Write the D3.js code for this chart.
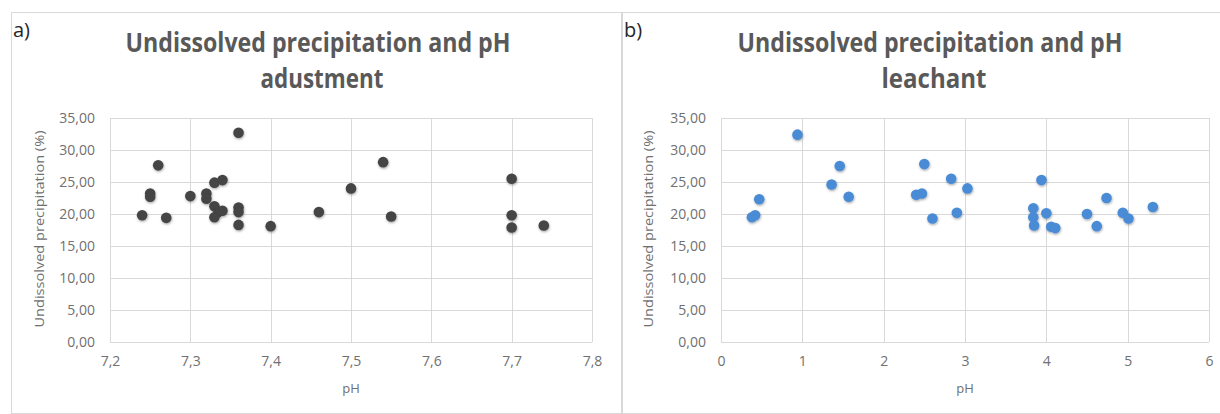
<!DOCTYPE html>
<html>
<head>
<meta charset="utf-8">
<script src="https://cdn.jsdelivr.net/npm/d3@7"></script>
<style>
  body { margin: 0; background: #fff; }
  svg { display: block; }
  text { font-family: "Open Sans", "DejaVu Sans", sans-serif; }
</style>
</head>
<body>
<div id="svg-container"></div>
<script>
/* chart a) pH adjustment */
var phAdjust = [7.24, 7.25, 7.25, 7.26, 7.27, 7.30, 7.32, 7.32, 7.33, 7.34, 7.33, 7.335, 7.33, 7.34,
  7.36, 7.36, 7.36, 7.36, 7.40, 7.46, 7.50, 7.54, 7.55, 7.70, 7.70, 7.70, 7.74];
var precipAdjust = [19.8, 23.2, 22.7, 27.6, 19.4, 22.8, 23.2, 22.4, 24.9, 25.3, 21.2, 20.3, 19.5, 20.5,
  32.7, 21.0, 20.3, 18.3, 18.1, 20.3, 24.0, 28.1, 19.6, 25.5, 19.8, 17.9, 18.2];

/* chart b) pH leachant */
var phLeach = [0.38, 0.42, 0.47, 0.94, 1.36, 1.46, 1.57, 2.40, 2.47, 2.50, 2.60, 2.83, 2.90, 3.03,
  3.94, 3.84, 3.84, 3.85, 4.00, 4.06, 4.11, 4.50, 4.62, 4.74, 4.94, 5.01, 5.31];
var precipLeach = [19.5, 19.8, 22.3, 32.4, 24.6, 27.5, 22.7, 23.0, 23.2, 27.8, 19.3, 25.5, 20.2, 24.0,
  25.3, 20.9, 19.5, 18.2, 20.1, 18.0, 17.8, 20.0, 18.1, 22.5, 20.2, 19.3, 21.1];

/* axis ticks */
var yTicks = [0, 5, 10, 15, 20, 25, 30, 35];
var xTicksAdjust = [7.2, 7.3, 7.4, 7.5, 7.6, 7.7, 7.8];
var xTicksLeach = [0, 1, 2, 3, 4, 5, 6];

var titleLine1 = "Undissolved precipitation and pH";
var yTitle = "Undissolved precipitation (%)";

var W = 1220, H = 414;
var locale = d3.formatLocale({decimal: ",", thousands: ".", grouping: [3], currency: ["", ""]});

var svg = d3.select("#svg-container").append("svg")
    .attr("width", W).attr("height", H);

var defs = svg.append("defs");
defs.append("filter").attr("id", "shadow")
    .attr("x", "-50%").attr("y", "-50%").attr("width", "200%").attr("height", "200%")
  .append("feDropShadow")
    .attr("dx", 0.5).attr("dy", 1.2).attr("stdDeviation", 1.3)
    .attr("flood-color", "#000").attr("flood-opacity", 0.35);

/* draws one panel */
function drawPanel(cfg) {
  var g = svg.append("g");

  /* chart border */
  g.append("rect")
      .attr("x", cfg.box.x + 0.5).attr("y", cfg.box.y + 0.5)
      .attr("width", cfg.box.w).attr("height", cfg.box.h)
      .attr("fill", "#fff").attr("stroke", "#d9d9d9");

  /* panel letter */
  g.append("text")
      .attr("x", cfg.box.x + 2).attr("y", cfg.box.y + 25)
      .attr("font-size", 20).attr("fill", "#262626")
      .text(cfg.letter);

  /* title */
  var cx = cfg.box.x + cfg.box.w / 2 + 2;
  g.append("text")
      .attr("x", cx).attr("y", 52)
      .attr("text-anchor", "middle")
      .attr("font-size", 26).attr("font-weight", "bold").attr("fill", "#595959")
      .attr("textLength", 385).attr("lengthAdjust", "spacingAndGlyphs")
      .text(titleLine1);
  g.append("text")
      .attr("x", cx + cfg.line2dx).attr("y", 88)
      .attr("text-anchor", "middle")
      .attr("font-size", 26).attr("font-weight", "bold").attr("fill", "#595959")
      .attr("textLength", cfg.line2len).attr("lengthAdjust", "spacingAndGlyphs")
      .text(cfg.line2);

  var x = d3.scaleLinear().domain(cfg.xDomain).range(cfg.xRange);
  var y = d3.scaleLinear().domain([0, 35]).range([342, 118]);

  /* grid */
  g.append("g").selectAll("line").data(yTicks).enter().append("line")
      .attr("x1", cfg.xRange[0]).attr("x2", cfg.xRange[1])
      .attr("y1", function (d) { return Math.round(y(d)) + 0.5; })
      .attr("y2", function (d) { return Math.round(y(d)) + 0.5; })
      .attr("stroke", "#d9d9d9");
  g.append("g").selectAll("line").data(cfg.xTicks).enter().append("line")
      .attr("x1", function (d) { return Math.round(x(d)) + 0.5; })
      .attr("x2", function (d) { return Math.round(x(d)) + 0.5; })
      .attr("y1", y(35)).attr("y2", y(0))
      .attr("stroke", "#d9d9d9");

  /* y axis labels */
  var fy = locale.format(".2f");
  var yAxis = d3.axisLeft(y).tickValues(yTicks).tickFormat(fy).tickSize(0).tickPadding(15);
  var ya = g.append("g").attr("transform", "translate(" + cfg.xRange[0] + ",0)").call(yAxis);
  ya.select(".domain").remove();
  ya.selectAll("text").attr("font-size", 14).attr("fill", "#707070")
      .attr("font-family", "'Open Sans', sans-serif");

  /* x axis labels */
  var xAxis = d3.axisBottom(x).tickValues(cfg.xTicks).tickFormat(locale.format(cfg.xFormat))
      .tickSize(0).tickPadding(14);
  var xa = g.append("g").attr("transform", "translate(0," + y(0) + ")").call(xAxis);
  xa.select(".domain").remove();
  xa.selectAll("text").attr("font-size", 14).attr("fill", "#707070")
      .attr("font-family", "'Open Sans', sans-serif");

  /* axis titles */
  g.append("text")
      .attr("x", (cfg.xRange[0] + cfg.xRange[1]) / 2).attr("y", 393)
      .attr("text-anchor", "middle").attr("font-size", 13).attr("fill", "#707070")
      .text("pH");
  g.append("text")
      .attr("transform", "translate(" + (cfg.xRange[0] - cfg.yTitleDx) + "," + 229 + ") rotate(-90)")
      .attr("text-anchor", "middle").attr("font-size", 13).attr("fill", "#707070")
      .attr("textLength", 197).attr("lengthAdjust", "spacingAndGlyphs")
      .text(yTitle);

  /* points */
  var pts = d3.range(cfg.xs.length).map(function (i) {
    return {x: cfg.xs[i], y: cfg.ys[i]};
  });
  g.append("g").attr("filter", "url(#shadow)")
    .selectAll("circle").data(pts).enter().append("circle")
      .attr("cx", function (d) { return x(d.x); })
      .attr("cy", function (d) { return y(d.y); })
      .attr("r", 5.3)
      .attr("fill", cfg.color);
}

drawPanel({
  box: {x: 11, y: 12, w: 610, h: 401},
  letter: "a)",
  line2: "adustment", line2len: 123, line2dx: 4, yTitleDx: 66,
  xDomain: [7.2, 7.8], xRange: [110, 592], xTicks: xTicksAdjust, xFormat: ".1f",
  xs: phAdjust, ys: precipAdjust, color: "#444444"
});

drawPanel({
  box: {x: 622, y: 12, w: 612, h: 401},
  letter: "b)",
  line2: "leachant", line2len: 105, line2dx: 4, yTitleDx: 68,
  xDomain: [0, 6], xRange: [721, 1209], xTicks: xTicksLeach, xFormat: ".0f",
  xs: phLeach, ys: precipLeach, color: "#4a8bd4"
});
</script>
</body>
</html>
